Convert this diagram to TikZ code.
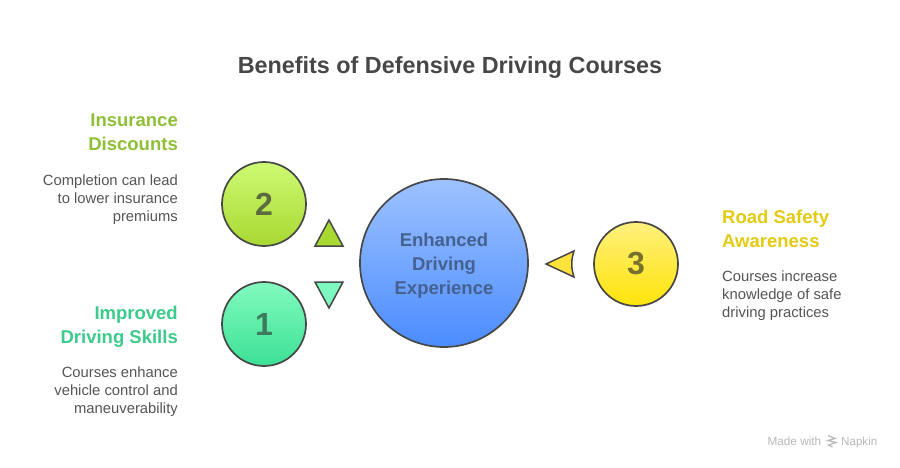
\documentclass[tikz,border=0pt]{standalone}
\usepackage{fontspec}
\setmainfont{Liberation Sans}
\definecolor{ink}{HTML}{474747}
\definecolor{numtwo}{HTML}{5B6B3F}
\definecolor{numone}{HTML}{3E7A5C}
\definecolor{numthree}{HTML}{77702E}
\definecolor{centert}{HTML}{44618F}
\definecolor{grayt}{HTML}{555555}
\definecolor{greenh}{HTML}{8FBF36}
\definecolor{mint}{HTML}{3CCB8B}
\definecolor{yelh}{HTML}{E3CB12}
\definecolor{blueA}{HTML}{9EC2FF}
\definecolor{blueB}{HTML}{4B8CFF}
\definecolor{limeA}{HTML}{CDFA73}
\definecolor{limeB}{HTML}{A8D832}
\definecolor{mintA}{HTML}{82FABE}
\definecolor{mintB}{HTML}{3CE096}
\definecolor{yellA}{HTML}{FFF07D}
\definecolor{yellB}{HTML}{FFE40A}
\definecolor{mintT}{HTML}{7DF8BE}
\definecolor{yellT}{HTML}{FFE23C}
\definecolor{wm}{HTML}{B8B8B8}
\tikzset{
  x=1pt,y=-1pt,
  disc/.style={circle,draw=ink,line width=1.7pt,minimum size=#1,inner sep=0pt,align=center},
  num/.style={font=\bfseries\fontsize{32}{32}\selectfont},
  head/.style={font=\bfseries\fontsize{18.5}{24}\selectfont,inner sep=0pt},
  body/.style={font=\fontsize{14.8}{18}\selectfont,text=grayt,inner sep=0pt},
  tri/.style={draw=ink,line width=1.5pt,line join=miter},
}
\begin{document}
\begin{tikzpicture}
\useasboundingbox (0,0) rectangle (900,468);
\fill[white] (0,0) rectangle (900,468);
\node[font=\bfseries\fontsize{23.35}{28}\selectfont,text=ink,inner sep=0pt] (title) at (450,68) {Benefits of Defensive Driving Courses};

\node[disc=168pt,top color=blueA,bottom color=blueB] (center) at (444,263) {};
\node[font=\bfseries\fontsize{18.5}{24}\selectfont,text=centert,align=center,inner sep=0pt] (centerlabel) at (444,265.5) {Enhanced\\Driving\\Experience};

\node[disc=84pt,top color=limeA,bottom color=limeB,num,text=numtwo] (two) at (264,204) {2};
\node[disc=84pt,top color=mintA,bottom color=mintB,num,text=numone] (one) at (264,324) {1};
\node[disc=84pt,top color=yellA,bottom color=yellB,num,text=numthree] (three) at (636,264) {3};

\draw[tri,fill=limeB] (329,220) -- (343,246) -- (315,246) -- cycle;
\draw[tri,fill=mintT] (315,282) -- (343,282) -- (329,308) -- cycle;
\draw[tri,fill=yellT] (546,264) -- (574,251) .. controls (571,260) and (571,268) .. (574,277) -- cycle;

\node[head,text=greenh,align=right,anchor=north east] (h2) at (178,114) {Insurance\\Discounts};
\node[body,align=right,anchor=north east] (b2) at (178,174.5) {Completion can lead\\to lower insurance\\premiums};
\node[head,text=mint,align=right,anchor=north east] (h1) at (178,306) {Improved\\Driving Skills};
\node[body,align=right,anchor=north east] (b1) at (178,366.5) {Courses enhance\\vehicle control and\\maneuverability};
\node[head,text=yelh,align=left,anchor=north west] (h3) at (722,210) {Road Safety\\Awareness};
\node[body,align=left,anchor=north west] (b3) at (722,270.5) {Courses increase\\knowledge of safe\\driving practices};

\node[font=\fontsize{11.8}{14}\selectfont,text=wm,inner sep=0pt,anchor=base east] (mw) at (821.5,445) {Made with};
\node[font=\fontsize{11.6}{14}\selectfont,text=wm,inner sep=0pt,anchor=base west] (nap) at (841,445) {Napkin};
\draw[wm,line width=1.2pt] (828,435.5) -- (835,438.5) -- (828,440.5) -- (836,442.5) -- (828.5,445) -- (832.5,447);
\end{tikzpicture}
\end{document}
